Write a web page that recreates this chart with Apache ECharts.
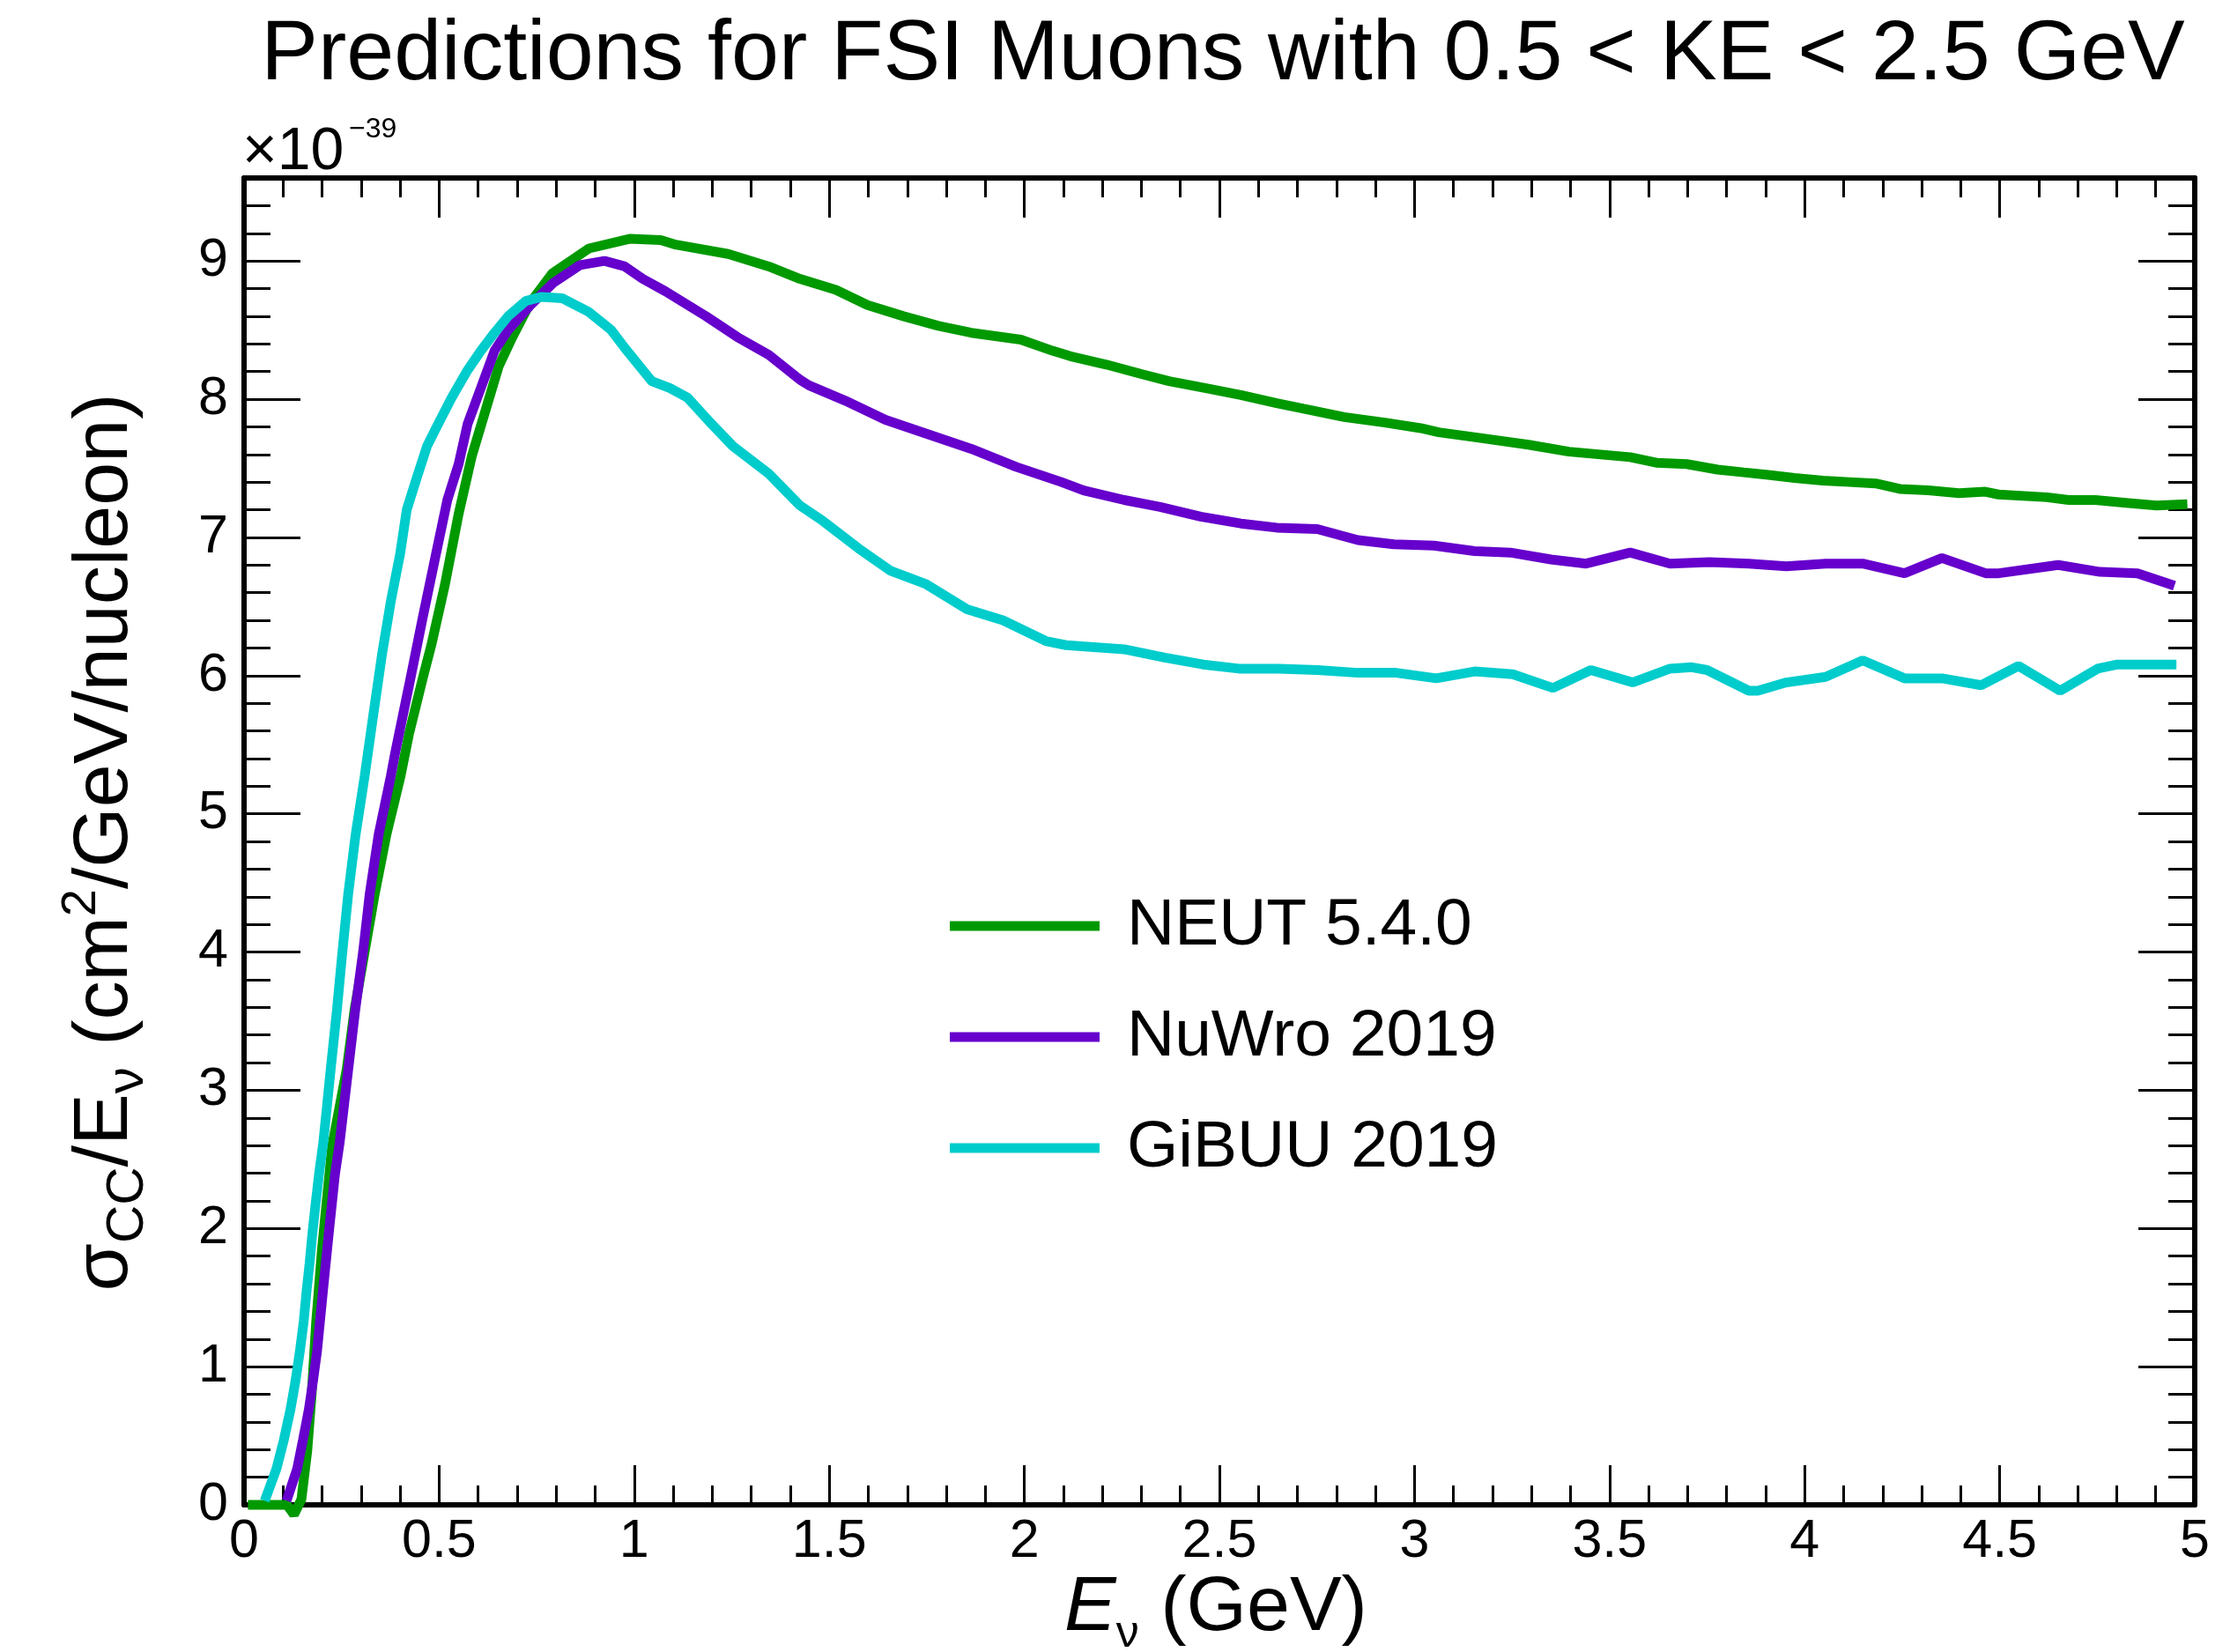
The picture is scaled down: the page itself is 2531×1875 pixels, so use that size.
<!DOCTYPE html>
<html>
<head>
<meta charset="utf-8">
<script src="https://cdn.jsdelivr.net/npm/echarts@6/dist/echarts.min.js"></script>
<style>
  html, body { margin: 0; padding: 0; background: #fff; }
  #main { width: 2531px; height: 1875px; }
</style>
</head>
<body>
<div id="main"></div>
<script>
// cross section / E_nu, in units of 1e-39 cm^2/GeV/nucleon

// NEUT 5.4.0
var neutE = [0.01, 0.06, 0.11, 0.128, 0.147, 0.162, 0.173, 0.185, 0.2, 0.226, 0.263, 0.283, 0.309, 0.335, 0.365, 0.401, 0.423, 0.458, 0.48, 0.515,
  0.55, 0.584, 0.619, 0.653, 0.688, 0.734, 0.79, 0.884, 0.988, 1.068, 1.103, 1.241, 1.345, 1.425, 1.517, 1.598, 1.69, 1.78, 1.864, 1.991,
  2.072, 2.118, 2.21, 2.302, 2.371, 2.463, 2.555, 2.647, 2.716, 2.82, 2.924, 3.016, 3.062, 3.165, 3.292, 3.396, 3.553, 3.62, 3.698, 3.777,
  3.844, 3.912, 3.974, 4.047, 4.115, 4.182, 4.244, 4.317, 4.396, 4.463, 4.497, 4.621, 4.677, 4.745, 4.824, 4.902, 4.981];
var neutXs = [0, 0, 0, -0.07, 0.04, 0.39, 0.79, 1.33, 1.86, 2.6, 3.15, 3.58, 4.0, 4.42, 4.85, 5.27, 5.58, 5.98, 6.22, 6.66,
  7.17, 7.59, 7.92, 8.24, 8.45, 8.70, 8.91, 9.09, 9.16, 9.15, 9.12, 9.05, 8.96, 8.87, 8.79, 8.68, 8.60, 8.53, 8.48, 8.43,
  8.35, 8.31, 8.25, 8.18, 8.13, 8.08, 8.03, 7.97, 7.93, 7.87, 7.83, 7.79, 7.76, 7.72, 7.67, 7.62, 7.58, 7.54, 7.53, 7.49,
  7.47, 7.45, 7.43, 7.41, 7.40, 7.39, 7.35, 7.34, 7.32, 7.33, 7.31, 7.29, 7.27, 7.27, 7.25, 7.23, 7.24];

// NuWro 2019
var nuwroE = [0.109, 0.136, 0.151, 0.166, 0.177, 0.187, 0.202, 0.217, 0.233, 0.245, 0.267, 0.285, 0.305, 0.322, 0.345, 0.376, 0.388, 0.423, 0.458, 0.492,
  0.521, 0.55, 0.573, 0.607, 0.642, 0.677, 0.734, 0.792, 0.861, 0.924, 0.976, 1.022, 1.08, 1.184, 1.264, 1.345, 1.425, 1.448, 1.54, 1.644,
  1.749, 1.864, 1.979, 2.095, 2.152, 2.256, 2.348, 2.452, 2.555, 2.647, 2.751, 2.855, 2.947, 3.05, 3.154, 3.246, 3.35, 3.44, 3.553, 3.655,
  3.756, 3.857, 3.953, 4.054, 4.149, 4.256, 4.352, 4.464, 4.498, 4.65, 4.757, 4.853, 4.948];
var nuwroXs = [0.03, 0.26, 0.47, 0.69, 0.90, 1.11, 1.54, 1.96, 2.39, 2.62, 3.15, 3.58, 4.0, 4.42, 4.85, 5.27, 5.45, 5.93, 6.42, 6.88,
  7.27, 7.53, 7.82, 8.08, 8.35, 8.50, 8.68, 8.84, 8.97, 9.00, 8.96, 8.87, 8.78, 8.60, 8.45, 8.32, 8.14, 8.10, 7.99, 7.85,
  7.75, 7.64, 7.51, 7.40, 7.34, 7.27, 7.22, 7.15, 7.10, 7.07, 7.06, 6.98, 6.95, 6.94, 6.90, 6.89, 6.84, 6.81, 6.89, 6.81,
  6.82, 6.81, 6.79, 6.81, 6.81, 6.74, 6.85, 6.74, 6.74, 6.80, 6.75, 6.74, 6.65];

// GiBUU 2019
var gibuuE = [0.053, 0.083, 0.102, 0.119, 0.132, 0.143, 0.153, 0.16, 0.168, 0.175, 0.183, 0.192, 0.203, 0.222, 0.238, 0.252, 0.267, 0.286, 0.309, 0.331,
  0.354, 0.377, 0.40, 0.417, 0.446, 0.469, 0.492, 0.532, 0.573, 0.607, 0.642, 0.677, 0.722, 0.763, 0.815, 0.884, 0.941, 0.976, 1.045, 1.091,
  1.137, 1.195, 1.253, 1.345, 1.425, 1.483, 1.575, 1.656, 1.749, 1.853, 1.945, 2.055, 2.107, 2.256, 2.36, 2.458, 2.55, 2.652, 2.751, 2.855,
  2.953, 3.056, 3.154, 3.252, 3.355, 3.452, 3.559, 3.655, 3.711, 3.75, 3.857, 3.88, 3.953, 4.054, 4.149, 4.256, 4.352, 4.453, 4.548, 4.655,
  4.751, 4.802, 4.953];
var gibuuXs = [0.03, 0.26, 0.47, 0.69, 0.90, 1.11, 1.33, 1.54, 1.75, 1.96, 2.17, 2.39, 2.62, 3.15, 3.58, 4.0, 4.42, 4.85, 5.27, 5.71,
  6.16, 6.55, 6.88, 7.20, 7.46, 7.66, 7.79, 8.01, 8.21, 8.35, 8.48, 8.60, 8.71, 8.74, 8.73, 8.63, 8.50, 8.37, 8.13, 8.08,
  8.01, 7.83, 7.66, 7.46, 7.23, 7.12, 6.92, 6.76, 6.66, 6.48, 6.40, 6.25, 6.22, 6.19, 6.13, 6.08, 6.05, 6.05, 6.04, 6.02,
  6.02, 5.98, 6.03, 6.01, 5.91, 6.04, 5.95, 6.05, 6.06, 6.04, 5.89, 5.89, 5.95, 5.99, 6.11, 5.98, 5.98, 5.93, 6.07, 5.89,
  6.05, 6.08, 6.08];

var seriesNames = ['NEUT 5.4.0', 'NuWro 2019', 'GiBUU 2019'];
var seriesColors = ['#009900', '#6600cc', '#00cccc'];

var font = '"Liberation Sans", Arial, Helvetica, sans-serif';

function pairs(xs, ys) {
  return xs.map(function (x, i) { return [x, ys[i]]; });
}

// ROOT style frame: ticks inside on all four sides
function xAx(pos, labels) {
  return {
    type: 'value', position: pos, min: 0, max: 5, interval: 0.5,
    axisLine: { show: true, onZero: false, lineStyle: { color: '#000', width: 6 } },
    axisTick: { show: true, inside: true, length: 45, lineStyle: { color: '#000', width: 3 } },
    minorTick: { show: true, splitNumber: 5, length: 22, lineStyle: { color: '#000', width: 3 } },
    axisLabel: { show: labels, fontSize: 61, fontFamily: font, color: '#000', margin: 12 },
    splitLine: { show: false }
  };
}
function yAx(pos, step, len, labels, line) {
  return {
    type: 'value', position: pos, min: 0, max: 9.6, interval: step,
    axisLine: { show: line, onZero: false, lineStyle: { color: '#000', width: 6 } },
    axisTick: { show: true, inside: true, length: len, lineStyle: { color: '#000', width: 3 } },
    axisLabel: { show: labels, showMaxLabel: false, fontSize: 61, fontFamily: font, color: '#000', margin: 18 },
    splitLine: { show: false }
  };
}

var series = [pairs(neutE, neutXs), pairs(nuwroE, nuwroXs), pairs(gibuuE, gibuuXs)].map(function (d, i) {
  return {
    type: 'line', name: seriesNames[i], data: d, symbol: 'none', clip: false,
    xAxisIndex: 0, yAxisIndex: 0, z: 3 + i,
    lineStyle: { width: 11, color: seriesColors[i] },
    itemStyle: { color: seriesColors[i] }
  };
});

var option = {
  backgroundColor: '#fff',
  animation: false,
  grid: { left: 277, right: 40, top: 202, bottom: 167 },
  xAxis: [xAx('bottom', true), xAx('top', false)],
  yAxis: [yAx('left', 1, 64, true, true), yAx('left', 0.2, 30, false, false),
          yAx('right', 1, 64, false, true), yAx('right', 0.2, 30, false, false)],
  legend: {
    orient: 'vertical', left: 1073, top: 1006,
    icon: 'rect', itemWidth: 170, itemHeight: 11, itemGap: 46,
    textStyle: { fontSize: 75, fontFamily: font, color: '#000', lineHeight: 80, padding: [0, 0, 0, 26] },
    data: seriesNames
  },
  series: series,
  graphic: [
    {
      type: 'text', x: 1388, y: 63,
      style: { text: 'Predictions for FSI Muons with 0.5 < KE < 2.5 GeV', fontSize: 97, fontFamily: font, fill: '#000',
               align: 'center', verticalAlign: 'middle' }
    },
    {
      type: 'text', x: 275, y: 173,
      style: { text: '\u00d710', fontSize: 68, fontFamily: font, fill: '#000', align: 'left', verticalAlign: 'middle' }
    },
    {
      type: 'text', x: 396, y: 147,
      style: { text: '\u221239', fontSize: 32, fontFamily: font, fill: '#000', align: 'left', verticalAlign: 'middle' }
    },
    {
      // x axis title
      type: 'text', x: 1380, y: 1826,
      style: {
        text: '{i|E}{s|\u03bd}{t| (GeV)}', align: 'center', verticalAlign: 'middle', fill: '#000',
        rich: {
          i: { fontSize: 88, fontFamily: font, fontStyle: 'italic', lineHeight: 110, verticalAlign: 'middle' },
          t: { fontSize: 88, fontFamily: font, lineHeight: 110, verticalAlign: 'middle' },
          s: { fontSize: 52, fontFamily: font, lineHeight: 52, verticalAlign: 'bottom' }
        }
      }
    },
    {
      // y axis title, rotated
      type: 'text', x: 120, y: 956, rotation: Math.PI / 2,
      style: {
        text: '{t|\u03c3}{s|CC}{t|/E}{s|\u03bd}{t| (cm}{p|2}{t|/GeV/nucleon)}',
        align: 'center', verticalAlign: 'middle', fill: '#000',
        rich: {
          t: { fontSize: 88, fontFamily: font, lineHeight: 110, verticalAlign: 'middle' },
          s: { fontSize: 60, fontFamily: font, lineHeight: 60, verticalAlign: 'bottom' },
          p: { fontSize: 56, fontFamily: font, lineHeight: 56, verticalAlign: 'top' }
        }
      }
    }
  ]
};

var chart = echarts.init(document.getElementById('main'));
chart.setOption(option);
</script>
</body>
</html>
